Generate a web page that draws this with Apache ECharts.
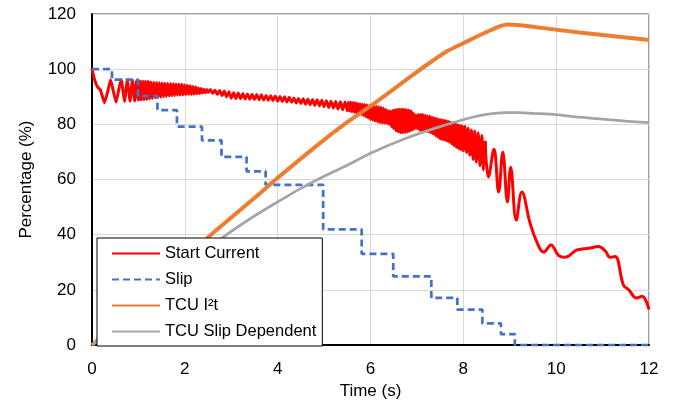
<!DOCTYPE html>
<html>
<head>
<meta charset="utf-8">
<script src="https://cdn.jsdelivr.net/npm/echarts@6/dist/echarts.min.js"></script>
<style>html,body{margin:0;padding:0;background:#fff;}#c{width:682px;height:405px;}</style>
</head>
<body>
<div id="c"></div>
<script>
const seriesNames = ['Start Current', 'Slip', 'TCU I\u00B2t', 'TCU Slip Dependent'];
const xTicks = [0, 2, 4, 6, 8, 10, 12];
const yTicks = [0, 20, 40, 60, 80, 100, 120];

// Start current: dense oscillating part
const startCurrentDense = [
  [0,100],[0.05,96.5],[0.12,93.5],[0.18,92.5],[0.27,87.8],[0.34,92],[0.40,96.2],[0.46,92],[0.52,88],[0.58,93],[0.63,96.2],[0.70,88.3],[0.76,96],[0.82,88.5],[0.87,96],[0.92,88.5],[0.96,95.8],[1.00,88.8],
  [1.03,95.7],[1.06,88.9],[1.09,95.6],[1.12,89.0],[1.15,95.5],[1.18,89.1],[1.21,95.5],[1.24,89.3],[1.27,95.4],[1.30,89.4],[1.33,95.3],[1.36,89.6],[1.39,95.2],[1.42,89.7],[1.45,95.1],[1.48,89.8],[1.51,95.0],[1.54,90.0],[1.57,94.9],[1.60,90.1],
  [1.63,94.8],[1.66,90.3],[1.69,94.8],[1.72,90.4],[1.75,94.7],[1.78,90.5],[1.81,94.6],[1.84,90.6],[1.87,94.6],[1.90,90.6],[1.93,94.5],[1.96,90.7],[1.99,94.4],[2.02,90.8],[2.05,94.2],[2.08,90.9],[2.11,94.0],[2.14,90.9],[2.17,93.7],[2.20,91.0],
  [2.23,93.5],[2.26,91.1],[2.29,93.2],[2.32,91.2],[2.35,93.0],[2.38,91.4],[2.41,92.7],[2.44,91.5],[2.47,92.6],[2.50,91.6],[2.55,92.6],[2.60,91.2],[2.65,92.4],[2.70,90.8],[2.75,92.3],[2.80,90.4],[2.85,92.1],[2.90,90.0],[2.95,91.8],[3.00,89.5],
  [3.05,91.5],[3.10,89.4],[3.15,91.4],[3.20,89.3],[3.25,91.2],[3.30,89.2],[3.35,91.0],[3.40,89.1],[3.45,90.9],[3.50,89.0],[3.55,90.8],[3.60,88.9],[3.65,90.7],[3.70,88.8],[3.75,90.5],[3.80,88.7],[3.85,90.4],[3.90,88.6],[3.95,90.3],[4.00,88.4],
  [4.05,90.1],[4.10,88.3],[4.15,90.0],[4.20,88.1],[4.25,89.8],[4.30,88.0],[4.35,89.6],[4.40,87.7],[4.45,89.4],[4.50,87.5],[4.55,89.3],[4.60,87.3],[4.65,89.2],[4.70,87.1],[4.75,89.0],[4.80,86.9],[4.85,88.9],[4.90,86.7],[4.95,88.7],[5.00,86.4],
  [5.05,88.6],[5.10,86.1],[5.15,88.4],[5.20,85.9],[5.25,88.3],[5.30,85.6],[5.35,88.2],[5.40,85.3],[5.45,88.1],[5.50,85.0],
  [5.525,88.0],[5.55,84.8],[5.575,88.0],[5.60,84.6],[5.625,87.9],[5.65,84.4],[5.675,87.8],[5.70,84.2],[5.725,87.6],[5.75,83.9],[5.775,87.5],[5.80,83.6],[5.825,87.3],[5.85,83.2],[5.875,87.2],[5.90,82.8],[5.925,87.0],[5.95,82.3],[5.975,86.8],[6.00,81.8],
  [6.025,86.7],[6.05,81.5],[6.075,86.6],[6.10,81.2],[6.125,86.5],[6.15,80.9],[6.175,86.4],[6.20,80.6],[6.225,86.2],[6.25,80.5],[6.275,85.9],[6.30,80.4],[6.325,85.5],[6.35,80.3],[6.375,85.0],[6.40,80.0],[6.425,84.8],[6.45,79.2],[6.475,85.0],[6.50,78.5],
  [6.525,85.2],[6.55,77.8],[6.575,85.4],[6.60,77.3],[6.625,85.5],[6.65,77.0],[6.675,85.5],[6.70,77.0],[6.725,85.4],[6.75,77.1],[6.775,85.3],[6.80,77.3],[6.825,85.1],[6.85,77.6],[6.875,84.8],[6.90,78.0],[6.925,84.0],[6.95,78.4],[6.975,83.5],[7.00,78.5],
  [7.025,83.6],[7.05,78.0],[7.075,83.6],[7.10,77.6],[7.125,83.5],[7.15,77.5],[7.175,83.3],[7.20,77.5],[7.225,83.1],[7.25,77.3],[7.275,82.9],[7.30,77.0],[7.325,82.6],[7.35,76.6],[7.375,82.3],[7.40,76.0],[7.425,82.0],[7.45,75.4],[7.475,81.8],[7.50,74.8],
  [7.525,81.7],[7.55,74.5],[7.575,81.5],[7.60,74.3],[7.625,81.3],[7.65,74.0],[7.675,81.0],[7.70,73.6],[7.725,80.8],[7.75,73.0],[7.775,80.5],[7.80,72.3],[7.825,80.2],[7.85,71.7],[7.875,79.9],[7.90,71.2],[7.925,79.6],[7.95,70.8],[7.975,79.4],[8.00,70.4],
  [8.035,79.2],[8.07,69.8],[8.105,78.6],[8.14,68.8],[8.175,78.0],[8.21,67.3],[8.245,77.6],[8.28,66.3],[8.32,77.0],[8.36,65.0],[8.40,76.0],[8.435,63.5],[8.47,74.0]
];
// Start current: slower tail
const startCurrentTail = [
  [8.47,74.0],[8.54,60.9],[8.66,71.0],[8.76,55.5],[8.85,69.9],[8.95,51.9],[9.02,64.5],[9.14,45.3],[9.26,55.5],
  [9.44,44.1],[9.58,37.5],[9.73,33.7],[9.89,36.3],[10.05,32.5],[10.19,31.8],[10.45,34.5],[10.70,35.1],[10.91,35.7],[11.06,34.1],[11.16,31.8],[11.27,32.1],[11.45,21.7],[11.56,20.1],[11.73,17.1],[11.85,17.7],[12.0,12.9]
];

const slipTimes  = [0, 0.43, 0.99, 1.41, 1.83, 2.37, 2.79, 3.33, 3.74, 4.98, 5.81, 6.49, 7.31, 7.87, 8.41, 8.81, 9.11, 12];
const slipValues = [100, 96.2, 90.2, 85.2, 79.2, 74.2, 68.2, 63.0, 58.1, 41.9, 33.1, 24.9, 17.1, 12.9, 7.9, 4.0, 0, 0];

const tcuI2t = [
  [0,0],[1,15.6],[2,31],[2.56,39.9],[3,46.2],[3.5,53.3],[4,60.6],[4.5,67.6],[5,74.4],[5.5,80.8],[6,86.6],[6.5,92.8],[6.92,98],[7.3,102.6],[7.64,106.4],[8,109.4],[8.36,112.4],[8.72,115.1],[8.94,116.2],[9.1,116.1],[9.5,115.4],[10,114.3],[10.5,113.3],[11,112.4],[11.5,111.5],[12,110.6]
];

const tcuSlipDependent = [
  [0,0],[1,14.5],[2,28.3],[2.9,40],[3.5,46.8],[4.12,53.1],[4.5,56.8],[5,61.2],[5.5,65.2],[6,69.5],[6.71,74.6],[7.43,78.8],[8.15,82.4],[8.5,83.6],[8.9,84.3],[9.2,84.3],[9.5,84],[10,83.5],[10.5,82.6],[11,81.9],[11.5,81.2],[12,80.6]
];

const slipData = slipTimes.map((t, i) => [t, slipValues[i]]);
const FONT = "'Liberation Sans', Arial, sans-serif";
const RED = '#ff0000', BLUE = '#4472c4', ORANGE = '#ed7d31', GRAY = '#a5a5a5';

const chart = echarts.init(document.getElementById('c'), null, {renderer: 'canvas'});
chart.setOption({
  animation: false,
  backgroundColor: '#ffffff',
  grid: {left: 92, right: 33, top: 14, bottom: 57, show: true, borderColor: '#404040', borderWidth: 1, containLabel: false},
  xAxis: {
    type: 'value', min: xTicks[0], max: xTicks[xTicks.length - 1], interval: 2,
    name: 'Time (s)', nameLocation: 'middle', nameGap: 33,
    nameTextStyle: {fontFamily: FONT, fontSize: 17, color: '#000'},
    axisLine: {show: true, onZero: false, lineStyle: {color: '#000', width: 2}},
    axisTick: {show: false},
    axisLabel: {fontFamily: FONT, fontSize: 17, color: '#000', margin: 16},
    splitLine: {show: true, lineStyle: {color: '#d9d9d9', width: 1}}
  },
  yAxis: {
    type: 'value', min: yTicks[0], max: yTicks[yTicks.length - 1], interval: 20,
    name: 'Percentage (%)', nameLocation: 'middle', nameGap: 57,
    nameTextStyle: {fontFamily: FONT, fontSize: 17, color: '#000'},
    axisLine: {show: true, lineStyle: {color: '#000', width: 2}},
    axisTick: {show: false},
    axisLabel: {fontFamily: FONT, fontSize: 17, color: '#000', margin: 16},
    splitLine: {show: true, lineStyle: {color: '#d9d9d9', width: 1}}
  },
  legend: {
    orient: 'vertical', left: 97, top: 238,
    backgroundColor: '#ffffff', borderColor: '#000', borderWidth: 1,
    padding: [7, 6, 6, 14],
    itemWidth: 48, itemHeight: 14, itemGap: 9,
    itemStyle: {opacity: 0},
    textStyle: {fontFamily: FONT, fontSize: 16.5, color: '#000'},
    data: seriesNames
  },
  series: [
    {name: seriesNames[0], type: 'line', data: startCurrentDense, symbol: 'none', smooth: 0.12,
     lineStyle: {color: RED, width: 3}, itemStyle: {color: RED}},
    {name: seriesNames[0], type: 'line', data: startCurrentTail, symbol: 'none', smooth: 0.4,
     lineStyle: {color: RED, width: 3}, itemStyle: {color: RED}},
    {name: seriesNames[1], type: 'line', data: slipData, symbol: 'none', step: 'end',
     lineStyle: {color: BLUE, width: 2.75, type: [7, 4]}, itemStyle: {color: BLUE}},
    {name: seriesNames[2], type: 'line', data: tcuI2t, symbol: 'none', smooth: 0.3,
     lineStyle: {color: ORANGE, width: 4}, itemStyle: {color: ORANGE}},
    {name: seriesNames[3], type: 'line', data: tcuSlipDependent, symbol: 'none', smooth: 0.3,
     lineStyle: {color: GRAY, width: 2.75}, itemStyle: {color: GRAY}}
  ]
});
</script>
</body>
</html>
